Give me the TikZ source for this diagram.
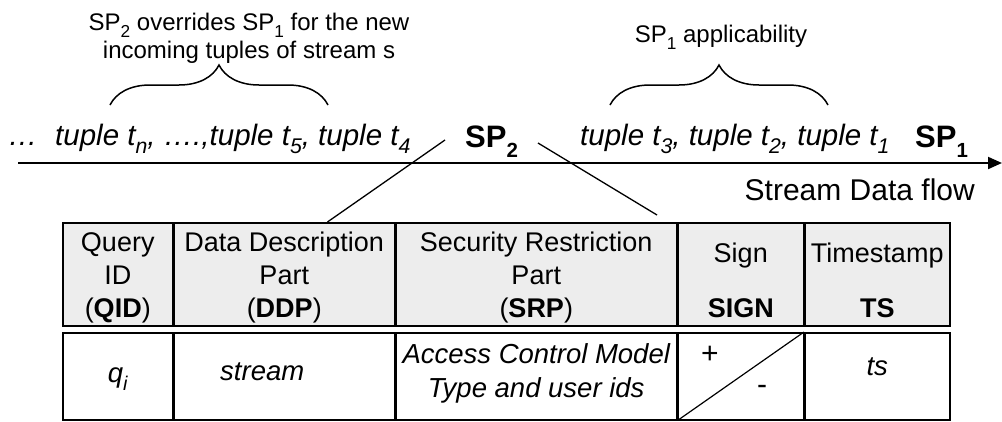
\documentclass[tikz,border=0pt]{standalone}
\usepackage{fontspec}
\setmainfont{Liberation Sans}
\usetikzlibrary{shapes.geometric, arrows.meta, positioning, calc, decorations.pathreplacing}
\newcommand{\lowidx}[1]{\raisebox{-0.3em}{\scalebox{0.72}{#1}}}
\newcommand{\spidx}[1]{\raisebox{-0.33em}{\scalebox{0.66}{#1}}}

\begin{document}
\begin{tikzpicture}[x=1pt, y=1pt, node distance=0pt]
	\tikzstyle{hcell}=[draw, line width=1.5pt, fill=black!7, minimum height=103pt, inner sep=0pt]
	\tikzstyle{vcell}=[draw, line width=1.5pt, minimum height=87pt, inner sep=0pt]
	\tikzstyle{htext}=[font=\fontsize{27}{33}\selectfont, align=center, anchor=base, inner sep=0pt]
	\tikzstyle{vtext}=[font=\fontsize{27.5}{34}\selectfont\itshape, align=center, anchor=base, inner sep=0pt]
	\tikzstyle{tup}=[font=\fontsize{29.5}{30}\selectfont\itshape, anchor=base west, inner sep=0pt]
	\tikzstyle{spname}=[font=\fontsize{31}{30}\selectfont\bfseries, anchor=base west, inner sep=0pt]
	\tikzstyle{note}=[font=\fontsize{24}{27.5}\selectfont, align=center, anchor=base, inner sep=0pt]
	\tikzstyle{brc}=[decorate, decoration={brace, amplitude=40pt}, line width=1.5pt]

	\useasboundingbox (0,0) rectangle (1002,-421);

	% stream of tuples
	\node[tup] (dots) at (8,-145) {…};
	\node[tup] (newt) at (55,-145) {tuple t\lowidx{n}, ….,tuple t\lowidx{5}, tuple t\lowidx{4}};
	\node[spname] (sp2) at (465,-147) {SP\spidx{2}};
	\node[tup] (oldt) at (580,-145) {tuple t\lowidx{3}, tuple t\lowidx{2}, tuple t\lowidx{1}};
	\node[spname] (sp1) at (915,-147) {SP\spidx{1}};

	\coordinate (fstart) at (18,-163);
	\coordinate (fend) at (1002,-163);
	\draw[line width=2pt, -{Triangle[length=14pt, width=12pt]}] (fstart) -- (fend);
	\node[font=\fontsize{30}{30}\selectfont, anchor=base east, inner sep=0pt] (flow) at (975,-200) {Stream Data flow};

	% braces and notes
	\draw[brc] (110,-105) -- (328,-105);
	\draw[brc] (610,-105) -- (828,-105);
	\node[note] (ovr) at (249,-58) {SP\lowidx{2} overrides SP\lowidx{1} for the new\\incoming tuples of stream s};
	\node[note] (appl) at (721,-42) {SP\lowidx{1} applicability};

	% policy table: header
	\node[hcell, minimum width=110pt, anchor=north west] (qid) at (62,-222) {};
	\node[hcell, minimum width=220pt, right=of qid] (ddp) {};
	\node[hcell, minimum width=281pt, right=of ddp] (srp) {};
	\node[hcell, minimum width=125pt, right=of srp] (sgn) {};
	\node[hcell, minimum width=145pt, right=of sgn] (tsh) {};

	\node[htext] (qidt) at ([yshift=-95pt]qid.north) {Query\\ID\\(\textbf{QID})};
	\node[htext] (ddpt) at ([yshift=-95pt]ddp.north) {Data Description\\Part\\(\textbf{DDP})};
	\node[htext] (srpt) at ([yshift=-95pt]srp.north) {Security Restriction\\Part\\(\textbf{SRP})};
	\node[htext] (sgnt) at ([yshift=-40pt]sgn.north) {Sign};
	\node[htext, font=\fontsize{27}{33}\selectfont\bfseries] (sgnb) at ([yshift=-95pt]sgn.north) {SIGN};
	\node[htext] (tsht) at ([yshift=-40pt]tsh.north) {Timestamp};
	\node[htext, font=\fontsize{27}{33}\selectfont\bfseries] (tshb) at ([yshift=-95pt]tsh.north) {TS};

	% policy table: values
	\node[vcell, minimum width=110pt, anchor=north west] (qv) at (62,-332) {};
	\node[vcell, minimum width=220pt, right=of qv] (dv) {};
	\node[vcell, minimum width=281pt, right=of dv] (sv) {};
	\node[vcell, minimum width=125pt, right=of sv] (gv) {};
	\node[vcell, minimum width=145pt, right=of gv] (tv) {};
	\draw[line width=1.2pt] (gv.south west) -- (gv.north east);

	\node[vtext] (qvt) at ([yshift=-50pt]qv.north) {q\lowidx{i}};
	\node[vtext] (dvt) at ([xshift=-22pt, yshift=-48pt]dv.north) {stream};
	\node[vtext] (svt) at ([yshift=-65pt]sv.north) {Access Control Model\\Type and user ids};
	\node[vtext] (tvt) at ([yshift=-43pt]tv.north) {ts};
	\node[font=\fontsize{30}{30}\selectfont, inner sep=0pt] (plus) at (710,-355) {+};
	\node[font=\fontsize{30}{30}\selectfont, inner sep=0pt] (minus) at (762,-390) {-};

	% links from SP2 to the table
	\draw[line width=1.3pt] ([shift={(-20,7)}]sp2.base west) -- ($(ddp.north west)!0.695!(ddp.north east)$);
	\coordinate (rlink) at (657,-215);
	\draw[line width=1.3pt] ([shift={(73,4)}]sp2.base west) -- (rlink);
\end{tikzpicture}
\end{document}
